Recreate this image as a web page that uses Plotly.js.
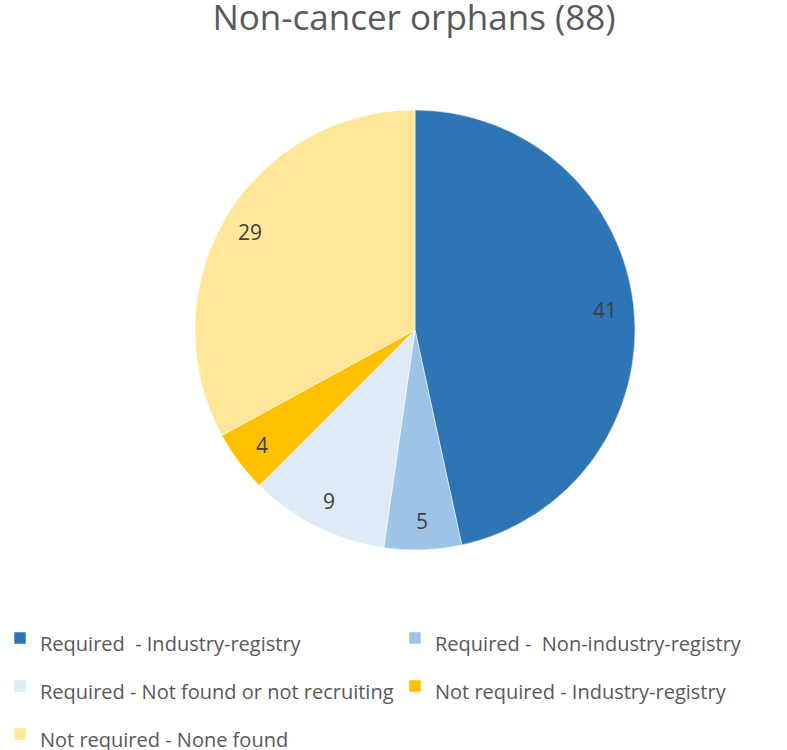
<!DOCTYPE html>
<html>
<head>
<meta charset="utf-8">
<script src="https://cdn.plot.ly/plotly-3.0.1.min.js"></script>
<style>html,body{margin:0;padding:0;background:#fff;}#chart{width:787px;height:750px;}</style>
</head>
<body>
<div id="chart"></div>
<script>
const categories = [
  "Required  - Industry-registry",
  "Required -  Non-industry-registry",
  "Required - Not found or not recruiting",
  "Not required - Industry-registry",
  "Not required - None found"
];
const values = [41, 5, 9, 4, 29];
const colors = ["#2E75B6", "#9DC3E6", "#DEEBF7", "#FFC000", "#FFE699"];
const chartTitle = "Non-cancer orphans (88)";

const W = 787, H = 750;
const cx = 415, cy = 330, R = 220;
const labelR = 0.87 * R;
const FONT = '"Open Sans", "Liberation Sans", sans-serif';

const legendLabels = categories.map(c => '<span style="font-size:20px">' + c.replace(/  /g, ' \u00a0') + '</span>');

const trace = {
  type: 'pie',
  labels: legendLabels,
  values: values,
  sort: false,
  direction: 'clockwise',
  rotation: 0,
  marker: {colors: colors, line: {color: '#ffffff', width: 0.5}},
  textinfo: 'none',
  domain: {x: [(cx - R) / W, (cx + R) / W], y: [1 - (cy + R) / H, 1 - (cy - R) / H]},
  hoverinfo: 'label+value'
};

// value labels placed along each slice's mid-angle (derived from the data)
const total = values.reduce((a, b) => a + b, 0);
let cum = 0;
const annotations = values.map(v => {
  const th = 2 * Math.PI * (cum + v / 2) / total;
  cum += v;
  return {
    text: String(v),
    x: (cx + labelR * Math.sin(th)) / W,
    y: 1 - (cy - labelR * Math.cos(th)) / H,
    xref: 'paper', yref: 'paper',
    xanchor: 'center', yanchor: 'middle',
    showarrow: false,
    font: {family: FONT, size: 21, color: '#404040'}
  };
});

const layout = {
  width: W, height: H,
  margin: {l: 0, r: 0, t: 0, b: 0, autoexpand: false},
  paper_bgcolor: '#ffffff',
  font: {family: FONT, color: '#595959'},
  title: {
    text: chartTitle,
    font: {family: FONT, size: 35, color: '#595959'},
    x: 414 / W, xanchor: 'center',
    y: 1 - 18 / H, yanchor: 'middle', yref: 'container'
  },
  annotations: annotations,
  showlegend: true,
  legend: {
    orientation: 'h',
    x: 0, xanchor: 'left',
    y: 1 - 609 / H, yanchor: 'top',
    font: {family: FONT, size: 34.6, color: '#595959'},
    entrywidth: 350, entrywidthmode: 'pixels',
    traceorder: 'normal',
    bgcolor: 'rgba(0,0,0,0)'
  }
};

Plotly.newPlot('chart', [trace], layout, {displayModeBar: false, staticPlot: true});
</script>
</body>
</html>
